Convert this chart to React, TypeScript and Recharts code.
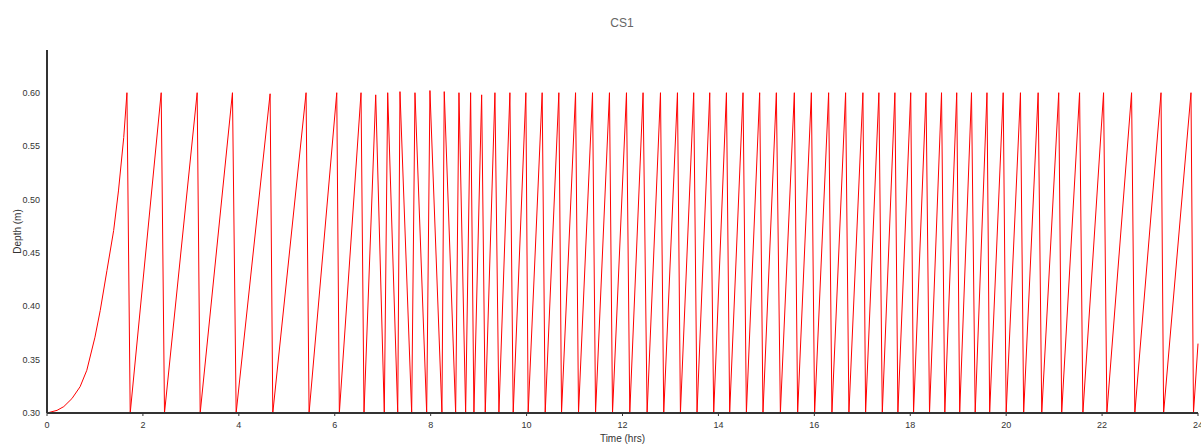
import { LineChart, Line, XAxis, YAxis } from "recharts";

// CS1 wet well depth over one day
const times = [
  0, 0.21, 0.35, 0.52, 0.69, 0.83, 1.0, 1.11, 1.25, 1.39, 1.49, 1.6, 1.667,
  1.735, 2.381, 2.45, 3.131, 3.194, 3.867, 3.944, 4.652, 4.708, 5.402, 5.465,
  6.042, 6.096, 6.548, 6.61, 6.854, 7.033, 7.104, 7.313, 7.36, 7.604, 7.673,
  7.917, 7.985, 8.235, 8.283, 8.521, 8.59, 8.729, 8.833, 8.902, 9.063, 9.138,
  9.34, 9.423, 9.652, 9.721, 9.985, 10.033, 10.325, 10.388, 10.673, 10.729,
  11.021, 11.083, 11.375, 11.438, 11.728, 11.792, 12.083, 12.152, 12.429,
  12.513, 12.792, 12.86, 13.146, 13.208, 13.485, 13.554, 13.819, 13.902,
  14.167, 14.235, 14.513, 14.583, 14.86, 14.929, 15.208, 15.292, 15.583,
  15.652, 15.938, 16.006, 16.298, 16.367, 16.652, 16.721, 17.013, 17.069,
  17.346, 17.417, 17.68, 17.742, 18.01, 18.069, 18.329, 18.402, 18.652,
  18.721, 18.969, 19.031, 19.277, 19.354, 19.6, 19.656, 19.938, 20.0, 20.298,
  20.365, 20.667, 20.742, 21.096, 21.158, 21.531, 21.6, 22.031, 22.1, 22.615,
  22.683, 23.229, 23.283, 23.854, 23.906, 24.0,
];

const depths = [
  0.3, 0.3025, 0.306, 0.3135, 0.3246, 0.34, 0.371, 0.396, 0.4335, 0.471, 0.508,
  0.558, 0.6,
  0.3, 0.6, 0.3, 0.6, 0.3, 0.6, 0.3, 0.599, 0.3, 0.6, 0.3,
  0.6, 0.3, 0.6, 0.3, 0.598, 0.3, 0.6, 0.3, 0.601, 0.3, 0.6,
  0.3, 0.602, 0.3, 0.601, 0.3, 0.6, 0.3, 0.6, 0.3, 0.598, 0.3,
  0.6, 0.3, 0.6, 0.3, 0.6, 0.3, 0.6, 0.3, 0.6, 0.3,
  0.6, 0.3, 0.6, 0.3, 0.6, 0.3, 0.6, 0.3, 0.6,
  0.3, 0.6, 0.3, 0.6, 0.3, 0.6, 0.3, 0.6, 0.3,
  0.6, 0.3, 0.6, 0.3, 0.6, 0.3, 0.6, 0.3, 0.6,
  0.3, 0.6, 0.3, 0.6, 0.3, 0.6, 0.3, 0.6, 0.3,
  0.6, 0.3, 0.6, 0.3, 0.6, 0.3, 0.6, 0.3, 0.6,
  0.3, 0.6, 0.3, 0.6, 0.3, 0.6, 0.3, 0.6, 0.3, 0.6,
  0.3, 0.6, 0.3, 0.6, 0.3, 0.6, 0.3, 0.6, 0.3, 0.6,
  0.3, 0.6, 0.3, 0.6, 0.3, 0.365,
];

const xTicks = [0, 2, 4, 6, 8, 10, 12, 14, 16, 18, 20, 22, 24];
const yTicks = [0.3, 0.35, 0.4, 0.45, 0.5, 0.55, 0.6];

const data = times.map((t, i) => ({ t, depth: depths[i] }));

const font = '"Liberation Sans", Arial, sans-serif';

export default function App() {
  return (
    <div
      style={{
        position: "absolute",
        left: 0,
        top: 0,
        width: 1201,
        height: 446,
        overflow: "hidden",
        background: "#fff",
        fontFamily: font,
      }}
    >
      <div
        style={{
          position: "absolute",
          left: 572,
          top: 16,
          width: 100,
          textAlign: "center",
          fontSize: 12,
          lineHeight: "14px",
          color: "#666",
        }}
      >
        CS1
      </div>
      <LineChart
        width={1230}
        height={446}
        data={data}
        margin={{ top: 50, right: 32, left: 0, bottom: 0 }}
      >
        <XAxis
          dataKey="t"
          type="number"
          domain={[0, 24]}
          ticks={xTicks}
          interval={0}
          height={33}
          tickSize={3}
          tickMargin={6}
          axisLine={{ stroke: "#333", strokeWidth: 2 }}
          tickLine={{ stroke: "#333" }}
          tick={{ fontSize: 9, fill: "#333", fontFamily: font }}
          label={{
            value: "Time (hrs)",
            position: "insideBottom",
            offset: 4,
            style: { fontSize: 10, fill: "#333", fontFamily: font },
          }}
        />
        <YAxis
          type="number"
          domain={[0.3, 0.64]}
          ticks={yTicks}
          interval={0}
          allowDataOverflow
          width={47}
          tickSize={5}
          tickMargin={2}
          tickLine={false}
          axisLine={{ stroke: "#333", strokeWidth: 2 }}
          tick={{ fontSize: 9, fill: "#333", fontFamily: font }}
          tickFormatter={(v: number) => v.toFixed(2)}
          label={{
            value: "Depth (m)",
            angle: -90,
            position: "insideLeft",
            offset: 17,
            style: { fontSize: 10, fill: "#333", fontFamily: font, textAnchor: "middle" },
          }}
        />
        <Line
          type="linear"
          dataKey="depth"
          stroke="#ff0000"
          strokeWidth={1}
          dot={false}
          activeDot={false}
          isAnimationActive={false}
        />
      </LineChart>
    </div>
  );
}
